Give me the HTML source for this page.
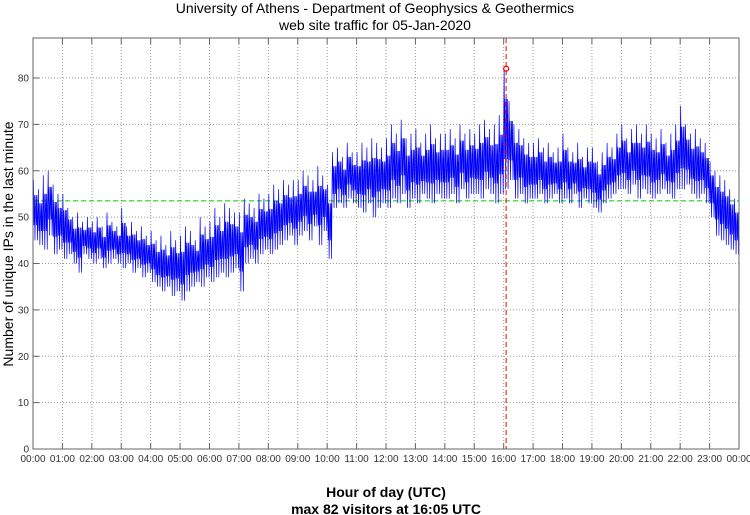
<!DOCTYPE html>
<html><head><meta charset="utf-8"><style>
body{margin:0;background:#fff;width:750px;height:515px;overflow:hidden}
svg{display:block;font-family:"Liberation Sans",sans-serif}
</style></head><body>
<svg id="c" width="750" height="515">
<text x="375" y="13" text-anchor="middle" font-size="14">University of Athens - Department of Geophysics &amp; Geothermics</text>
<text x="375" y="30" text-anchor="middle" font-size="14">web site traffic for 05-Jan-2020</text>
<text transform="translate(13,244) rotate(-90)" text-anchor="middle" font-size="14">Number of unique IPs in the last minute</text>
<text x="386" y="497" text-anchor="middle" font-size="14" font-weight="bold">Hour of day (UTC)</text>
<text x="386" y="514" text-anchor="middle" font-size="14" font-weight="bold">max 82 visitors at 16:05 UTC</text>
<g id="grid"></g><g id="marks"></g>
<rect x="33" y="38" width="706" height="411" fill="none" stroke="#666"/>
</svg>
<script>
const yTicks=[0,10,20,30,40,50,60,70,80];
const xTickLabels=["00:00","01:00","02:00","03:00","04:00","05:00","06:00","07:00","08:00","09:00","10:00","11:00","12:00","13:00","14:00","15:00","16:00","17:00","18:00","19:00","20:00","21:00","22:00","23:00","00:00"];
const highs=[58,56,59,60,57,55, 55,52,50,51,49,50, 49,50,48,51,49,48, 52,48,49,47,48,46, 47,45,46,44,47,45, 46,48,47,45,50,48, 49,52,50,53,52,51, 51,54,53,52,55,54, 55,57,56,58,57,58, 58,60,59,58,61,59, 57,64,65,63,66,64, 64,66,65,67,66,65, 67,70,68,71,67,68, 69,66,68,70,67,68, 68,69,67,70,68,69, 68,70,71,69,70,72, 82,75,70,69,67,66, 66,67,65,66,64,65, 68,65,64,66,63,65, 65,62,64,66,65,68, 70,67,69,70,68,70, 68,67,69,66,68,70, 74,70,68,69,67,66, 62,60,59,58,56,54];
const lows=[45,44,43,46,42,43, 41,42,40,38,42,41, 40,41,39,40,41,40, 39,40,38,39,37,38, 36,35,34,35,33,34, 32,34,35,36,35,37, 36,37,38,37,38,39, 34,40,41,40,42,43, 42,43,44,45,46,44, 46,47,45,48,44,47, 41,52,53,52,54,53, 52,51,53,50,52,53, 52,54,53,55,52,54, 53,55,54,53,55,54, 54,55,53,56,54,55, 55,54,56,55,53,55, 56,58,54,55,53,54, 54,55,53,54,55,53, 54,53,55,52,54,53, 52,51,53,54,55,56, 56,55,57,54,56,55, 54,55,56,55,54,56, 56,57,55,54,55,53, 50,46,45,44,43,42];
const meanValue=[53.5];
const maxMinute=[965];
const maxValue=[82];
const NS="http://www.w3.org/2000/svg";
const X=m=>33+m/1440*706, Y=v=>449-v*(371/80);
function mk(t,a,p){const e=document.createElementNS(NS,t);for(const k in a)e.setAttribute(k,a[k]);(p||document.getElementById('marks')).appendChild(e);return e;}
const G=document.getElementById('grid');
yTicks.forEach(v=>{
 const l=mk('line',{x1:33,x2:739,y1:Y(v),y2:Y(v),stroke:'#999','stroke-dasharray':'1,2'},G);
 
 
 mk('line',{x1:33,x2:39,y1:Y(v),y2:Y(v),stroke:'#666'},G);
 const t=mk('text',{x:29,y:Y(v)+3.5,'text-anchor':'end','font-size':'10',fill:'#333'},G);t.textContent=v;
 
 
});
xTickLabels.forEach((s,i)=>{
 const x=X(i*60);
 const l=mk('line',{x1:x,x2:x,y1:38,y2:449,stroke:'#999','stroke-dasharray':'1,2'},G);
 
 
 mk('line',{x1:x,x2:x,y1:443,y2:449,stroke:'#666'},G);
 mk('line',{x1:x,x2:x,y1:38,y2:44,stroke:'#666'},G);
 const t=mk('text',{x:x,y:462,'text-anchor':'middle','font-size':'10',fill:'#333'},G);t.textContent=s;
 
 
});
const ml=mk('line',{x1:33,x2:739,y1:Y(meanValue[0]),y2:Y(meanValue[0]),stroke:'#0c0','stroke-dasharray':'5,3'});


let pts=[];
highs.forEach((h,i)=>{const lo=lows[i];const b=i*10;const m=(h+lo)/2;
 const mh=(h+m)/2, mlo=(lo+m)/2;
 [[m,0],[h,1],[mlo,2],[mh,3],[lo,4],[m,5],[mh,6],[mlo,7],[mh,8],[lo,9]].forEach(([v,o])=>{
  pts.push(X(b+o).toFixed(2)+','+Y(v).toFixed(2));});
});
const pl=mk('polyline',{points:pts.join(' '),fill:'none',stroke:'#00f','stroke-width':'0.7'});


const mx=X(maxMinute[0]);
const vl=mk('line',{x1:mx,x2:mx,y1:38,y2:449,stroke:'#f00','stroke-dasharray':'5,3'});


const mc=mk('circle',{cx:mx,cy:Y(maxValue[0]),r:2.5,fill:'none',stroke:'#f00','stroke-width':'1.2'});


</script>
</body></html>
